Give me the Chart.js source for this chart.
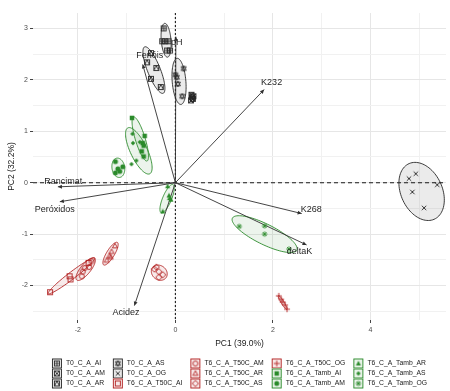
<!DOCTYPE html>
<html><head><meta charset="utf-8">
<script src="https://cdn.jsdelivr.net/npm/chart.js@4.4.1/dist/chart.umd.min.js"></script>
<style>html,body{margin:0;padding:0;background:#fff;overflow:hidden}#wrap{width:450px;height:391px}</style>
</head><body><div id="wrap"><canvas id="c" width="450" height="391"></canvas></div>
<script>
// ---------------- DATA ----------------
const groupNames = ["T0_C_A_AI","T0_C_A_AM","T0_C_A_AR","T0_C_A_AS","T0_C_A_OG",
  "T6_C_A_T50C_AI","T6_C_A_T50C_AM","T6_C_A_T50C_AR","T6_C_A_T50C_AS","T6_C_A_T50C_OG",
  "T6_C_A_Tamb_AI","T6_C_A_Tamb_AM","T6_C_A_Tamb_AR","T6_C_A_Tamb_AS","T6_C_A_Tamb_OG"];
const T0_C_A_AI = [[-0.24,3.0],[-0.27,2.75],[-0.21,2.75],[-0.14,2.75],[-0.17,2.57],[-0.11,2.57]];
const T0_C_A_AM = [[0.33,1.71],[0.37,1.68],[0.32,1.60],[0.36,1.63],[0.34,1.66]];
const T0_C_A_AR = [[-0.50,2.52],[-0.58,2.34],[-0.39,2.23],[-0.50,2.02],[-0.30,1.86]];
const T0_C_A_AS = [[0.17,2.22],[0.00,2.10],[0.03,2.05],[0.05,1.92],[0.14,1.68]];
const T0_C_A_OG = [[4.93,0.175],[4.79,0.08],[4.86,-0.18],[5.37,-0.04],[5.10,-0.49]];
const T50C_AI = [[-2.57,-2.13],[-2.17,-1.82],[-2.15,-1.88],[-1.78,-1.56]];
const T50C_AM = [[-1.92,-1.82],[-1.86,-1.66],[-1.77,-1.64],[-1.72,-1.53],[-1.90,-1.73]];
const T50C_AR = [[-1.24,-1.23],[-1.31,-1.34],[-1.35,-1.42],[-1.41,-1.51],[-1.33,-1.45]];
const T50C_AS = [[-0.43,-1.68],[-0.34,-1.73],[-0.26,-1.79],[-0.34,-1.84],[-0.39,-1.64]];
const T50C_OG = [[2.12,-2.20],[2.17,-2.27],[2.20,-2.32],[2.25,-2.38],[2.29,-2.46]];
const Tamb_AI = [[-0.89,1.26],[-0.63,0.91],[-0.67,0.77],[-0.65,0.72],[-0.69,0.61],[-0.65,0.51]];
const Tamb_AM = [[-1.23,0.41],[-1.18,0.27],[-1.08,0.31],[-1.23,0.19],[-1.14,0.22]];
const Tamb_AR = [[-0.16,-0.07],[-0.12,-0.30],[-0.09,-0.33],[-0.26,-0.56],[-0.13,-0.25]];
const Tamb_AS = [[-0.88,0.95],[-0.87,0.77],[-0.73,0.79],[-0.80,0.43],[-0.90,0.36]];
const Tamb_OG = [[1.31,-0.85],[1.83,-0.84],[1.83,-1.00],[2.33,-1.29]];
const groupPoints = [T0_C_A_AI,T0_C_A_AM,T0_C_A_AR,T0_C_A_AS,T0_C_A_OG,
  T50C_AI,T50C_AM,T50C_AR,T50C_AS,T50C_OG,Tamb_AI,Tamb_AM,Tamb_AR,Tamb_AS,Tamb_OG];
// concentration ellipses (centre, semi-axes, angle) per group, in PC units
const ellipseCx    = [-0.19, 0.345,-0.44, 0.075, 5.05,-2.13,-1.84,-1.33,-0.33, 2.20,-0.72,-1.17,-0.17,-0.75, 1.83];
const ellipseCy    = [ 2.77, 1.66,  2.19, 1.97, -0.17,-1.81,-1.68,-1.38,-1.75,-2.33, 0.85, 0.29,-0.31, 0.62,-1.00];
const ellipseA     = [ 0.33, 0.09,  0.49, 0.45,  0.60, 0.59, 0.28, 0.26, 0.17, 0.16, 0.45, 0.19, 0.30, 0.50, 0.73];
const ellipseB     = [ 0.10, 0.05,  0.13, 0.14,  0.42, 0.07, 0.10, 0.08, 0.14, 0.03, 0.10, 0.13, 0.09, 0.17, 0.20];
const ellipseAngle = [ 95,   100,   113,  95,   -62,   36,   49,   57,  -30,  -57,  108,  100,   66,  117,  -25];
// variable loadings (arrow tips)
const varNames = ["Rancimat","Peróxidos","Acidez","K232","K268","deltaK","pH","Fenóis"];
const varX = [-2.41,-2.37,-0.84,1.82,2.59,2.69,0.01,-0.67];
const varY = [-0.08,-0.37,-2.39,1.81,-0.60,-1.21,2.84,2.30];
const xTickLabels = [-2,0,2,4];
const yTickLabels = [-2,-1,0,1,2,3];

// ---------------- STYLE ----------------
const FONT = "'Liberation Sans', Arial, Helvetica, sans-serif";
const BLACK = "#262626", RED = "#B22222", GREEN = "#2A8A2A";
const groupColors = [BLACK,BLACK,BLACK,BLACK,BLACK,RED,RED,RED,RED,RED,GREEN,GREEN,GREEN,GREEN,GREEN];
const groupShapes = ["sqPlus","sqX","sqTri","star6","x","square","circle","triangle","diamond","plus",
  "fsquare","fcircle","ftriangle","fdiamond","asterisk"];
const varLabelDx = [5.5,-5,-8.5,7.5,9.5,-7,1,7];
const varLabelDy = [-5,7.5,6.5,-7,-4,7,6,-8.5];

function rgba(hex,a){const n=parseInt(hex.slice(1),16);return `rgba(${n>>16},${(n>>8)&255},${n&255},${a})`;}

function makeSprite(shape,color){
  const S=8,c=document.createElement('canvas');c.width=c.height=S;
  const g=c.getContext('2d');g.strokeStyle=color;g.fillStyle=color;g.lineWidth=0.9;
  const m=S/2,r=2.5;
  const line=(a,b,cc,d)=>{g.beginPath();g.moveTo(a,b);g.lineTo(cc,d);g.stroke();};
  const tri=(up,fill)=>{g.beginPath();
    if(up){g.moveTo(m,m-r*1.1);g.lineTo(m+r,m+r*0.75);g.lineTo(m-r,m+r*0.75);}
    else{g.moveTo(m,m+r*1.1);g.lineTo(m+r,m-r*0.75);g.lineTo(m-r,m-r*0.75);}
    g.closePath();fill?g.fill():g.stroke();};
  switch(shape){
    case 'sqPlus':g.strokeRect(m-r,m-r,2*r,2*r);line(m-r,m,m+r,m);line(m,m-r,m,m+r);break;
    case 'sqX':g.strokeRect(m-r,m-r,2*r,2*r);line(m-r,m-r,m+r,m+r);line(m-r,m+r,m+r,m-r);break;
    case 'sqTri':g.strokeRect(m-r,m-r,2*r,2*r);g.beginPath();g.moveTo(m-r,m+r);g.lineTo(m,m-r);g.lineTo(m+r,m+r);g.stroke();break;
    case 'star6':tri(true,false);tri(false,false);break;
    case 'x':line(m-r*0.9,m-r*0.9,m+r*0.9,m+r*0.9);line(m-r*0.9,m+r*0.9,m+r*0.9,m-r*0.9);break;
    case 'square':g.strokeRect(m-r,m-r,2*r,2*r);break;
    case 'circle':g.beginPath();g.arc(m,m,r,0,Math.PI*2);g.stroke();break;
    case 'triangle':tri(true,false);break;
    case 'diamond':g.beginPath();g.moveTo(m,m-r*1.25);g.lineTo(m+r*1.25,m);g.lineTo(m,m+r*1.25);g.lineTo(m-r*1.25,m);g.closePath();g.stroke();break;
    case 'plus':line(m-r*1.2,m,m+r*1.2,m);line(m,m-r*1.2,m,m+r*1.2);break;
    case 'fsquare':g.fillRect(m-r*0.9,m-r*0.9,1.8*r,1.8*r);break;
    case 'fcircle':g.beginPath();g.arc(m,m,r,0,Math.PI*2);g.fill();break;
    case 'ftriangle':tri(true,true);break;
    case 'fdiamond':g.beginPath();g.moveTo(m,m-r*0.9);g.lineTo(m+r*0.9,m);g.lineTo(m,m+r*0.9);g.lineTo(m-r*0.9,m);g.closePath();g.fill();break;
    case 'asterisk':line(m-r*1.1,m,m+r*1.1,m);line(m,m-r*1.1,m,m+r*1.1);line(m-r*0.8,m-r*0.8,m+r*0.8,m+r*0.8);line(m-r*0.8,m+r*0.8,m+r*0.8,m-r*0.8);break;
  }
  return c;
}
const sprites = groupShapes.map((s,i)=>makeSprite(s,groupColors[i]));

const isMajorX=v=>xTickLabels.some(t=>Math.abs(t-v)<1e-6);
const isMajorY=v=>yTickLabels.some(t=>Math.abs(t-v)<1e-6);

const biplotPlugin = {
  id:'biplot',
  beforeDatasetsDraw(chart){
    const {ctx,chartArea:a,scales:{x,y}}=chart;
    ctx.save();ctx.beginPath();ctx.rect(a.left,a.top,a.right-a.left,a.bottom-a.top);ctx.clip();
    // zero reference lines
    ctx.strokeStyle='#1a1a1a';ctx.lineWidth=1.1;
    const x0=x.getPixelForValue(0),y0=y.getPixelForValue(0);
    ctx.setLineDash([4,3]);
    ctx.beginPath();ctx.moveTo(a.left,y0);ctx.lineTo(a.right,y0);ctx.stroke();
    ctx.setLineDash([2,2]);
    ctx.beginPath();ctx.moveTo(x0,a.top);ctx.lineTo(x0,a.bottom);ctx.stroke();
    ctx.setLineDash([]);
    // ellipses
    for(let i=0;i<groupNames.length;i++){
      const th=ellipseAngle[i]*Math.PI/180,ct=Math.cos(th),st=Math.sin(th);
      ctx.beginPath();
      for(let k=0;k<=90;k++){
        const t=k/90*Math.PI*2,u=ellipseA[i]*Math.cos(t),v=ellipseB[i]*Math.sin(t);
        const px=x.getPixelForValue(ellipseCx[i]+u*ct-v*st),py=y.getPixelForValue(ellipseCy[i]+u*st+v*ct);
        k?ctx.lineTo(px,py):ctx.moveTo(px,py);
      }
      ctx.closePath();
      ctx.fillStyle=rgba(groupColors[i],0.09);ctx.fill();
      ctx.strokeStyle=groupColors[i];ctx.lineWidth=0.9;ctx.stroke();
    }
    // arrows
    ctx.strokeStyle='#303030';ctx.fillStyle='#303030';ctx.lineWidth=0.9;
    for(let i=0;i<varNames.length;i++){
      const tx=x.getPixelForValue(varX[i]),ty=y.getPixelForValue(varY[i]);
      ctx.beginPath();ctx.moveTo(x0,y0);ctx.lineTo(tx,ty);ctx.stroke();
      const ang=Math.atan2(ty-y0,tx-x0),L=4.5,W=0.45;
      ctx.beginPath();ctx.moveTo(tx,ty);
      ctx.lineTo(tx-L*Math.cos(ang-W),ty-L*Math.sin(ang-W));
      ctx.lineTo(tx-L*Math.cos(ang+W),ty-L*Math.sin(ang+W));
      ctx.closePath();ctx.fill();
    }
    ctx.restore();
  },
  afterDatasetsDraw(chart){
    const {ctx,scales:{x,y}}=chart;
    ctx.save();
    ctx.font=`9px ${FONT}`;ctx.fillStyle='#1f1f1f';ctx.textAlign='center';ctx.textBaseline='middle';
    for(let i=0;i<varNames.length;i++){
      ctx.fillText(varNames[i],x.getPixelForValue(varX[i])+varLabelDx[i],y.getPixelForValue(varY[i])+varLabelDy[i]);
    }
    ctx.restore();
  },
  afterDraw(chart){
    // legend: 5 columns x 3 rows, column-major
    const {ctx,chartArea:a}=chart;
    ctx.save();
    ctx.font=`6.8px ${FONT}`;ctx.textBaseline='middle';ctx.textAlign='left';
    const key=10,gap=4,spacing=8,rows=3,cols=5;
    const colW=[];
    for(let c=0;c<cols;c++){let w=0;for(let r=0;r<rows;r++){const n=groupNames[c*rows+r];if(n)w=Math.max(w,ctx.measureText(n).width);}colW.push(w);}
    const total=colW.reduce((s,w)=>s+key+gap+w,0)+spacing*(cols-1);
    let cx=(a.left+a.right)/2-total/2;
    const rowY=[363.5,373.5,383.5];
    for(let c=0;c<cols;c++){
      for(let r=0;r<rows;r++){
        const i=c*rows+r;if(i>=groupNames.length)continue;
        const ky=rowY[r]-key/2;
        ctx.fillStyle='#fff';ctx.fillRect(cx,ky,key,key);
        ctx.fillStyle=rgba(groupColors[i],0.1);ctx.fillRect(cx,ky,key,key);
        ctx.strokeStyle=groupColors[i];ctx.lineWidth=0.9;ctx.strokeRect(cx+0.5,ky+0.5,key-1,key-1);
        ctx.drawImage(sprites[i],cx+key/2-4,rowY[r]-4);
        ctx.fillStyle='#1a1a1a';ctx.fillText(groupNames[i],cx+key+gap,rowY[r]);
      }
      cx+=key+gap+colW[c]+spacing;
    }
    ctx.restore();
  }
};

new Chart(document.getElementById('c'),{
  type:'scatter',
  data:{datasets:groupNames.map((g,i)=>({
    label:g,
    data:groupPoints[i].map(p=>({x:p[0],y:p[1]})),
    pointStyle:sprites[i],pointRadius:3,pointHoverRadius:3,
    borderColor:groupColors[i],backgroundColor:groupColors[i]
  }))},
  options:{
    responsive:false,animation:false,devicePixelRatio:1,
    layout:{padding:{top:13,right:2,bottom:38,left:0}},
    plugins:{legend:{display:false},tooltip:{enabled:false}},
    scales:{
      x:{type:'linear',min:-2.92,max:5.55,
        afterFit(s){s.height=33;},
        border:{display:false},
        grid:{color:c=>isMajorX(c.tick.value)?'#e6e6e6':'#f1f1f1',lineWidth:1,tickLength:3,
          tickColor:c=>isMajorX(c.tick.value)?'#444':'rgba(0,0,0,0)'},
        ticks:{stepSize:1,includeBounds:false,autoSkip:false,maxRotation:0,padding:3,
          color:'#4d4d4d',font:{size:7,family:FONT},
          callback:v=>isMajorX(v)?String(Math.round(v)):''},
        title:{display:true,text:'PC1 (39.0%)',color:'#1a1a1a',font:{size:8.5,family:FONT},padding:{top:0,bottom:4}}
      },
      y:{type:'linear',min:-2.67,max:3.30,
        afterFit(s){s.width=33;},
        border:{display:false},
        grid:{color:c=>isMajorY(c.tick.value)?'#e6e6e6':'#f1f1f1',lineWidth:1,tickLength:3,
          tickColor:c=>isMajorY(c.tick.value)?'#444':'rgba(0,0,0,0)'},
        ticks:{stepSize:0.5,includeBounds:false,autoSkip:false,padding:2,
          color:'#4d4d4d',font:{size:7,family:FONT},
          callback:v=>isMajorY(v)?String(Math.round(v)):''},
        title:{display:true,text:'PC2 (32.2%)',color:'#1a1a1a',font:{size:8.5,family:FONT},padding:{top:7,bottom:0}}
      }
    }
  },
  plugins:[biplotPlugin]
});
</script></body></html>
